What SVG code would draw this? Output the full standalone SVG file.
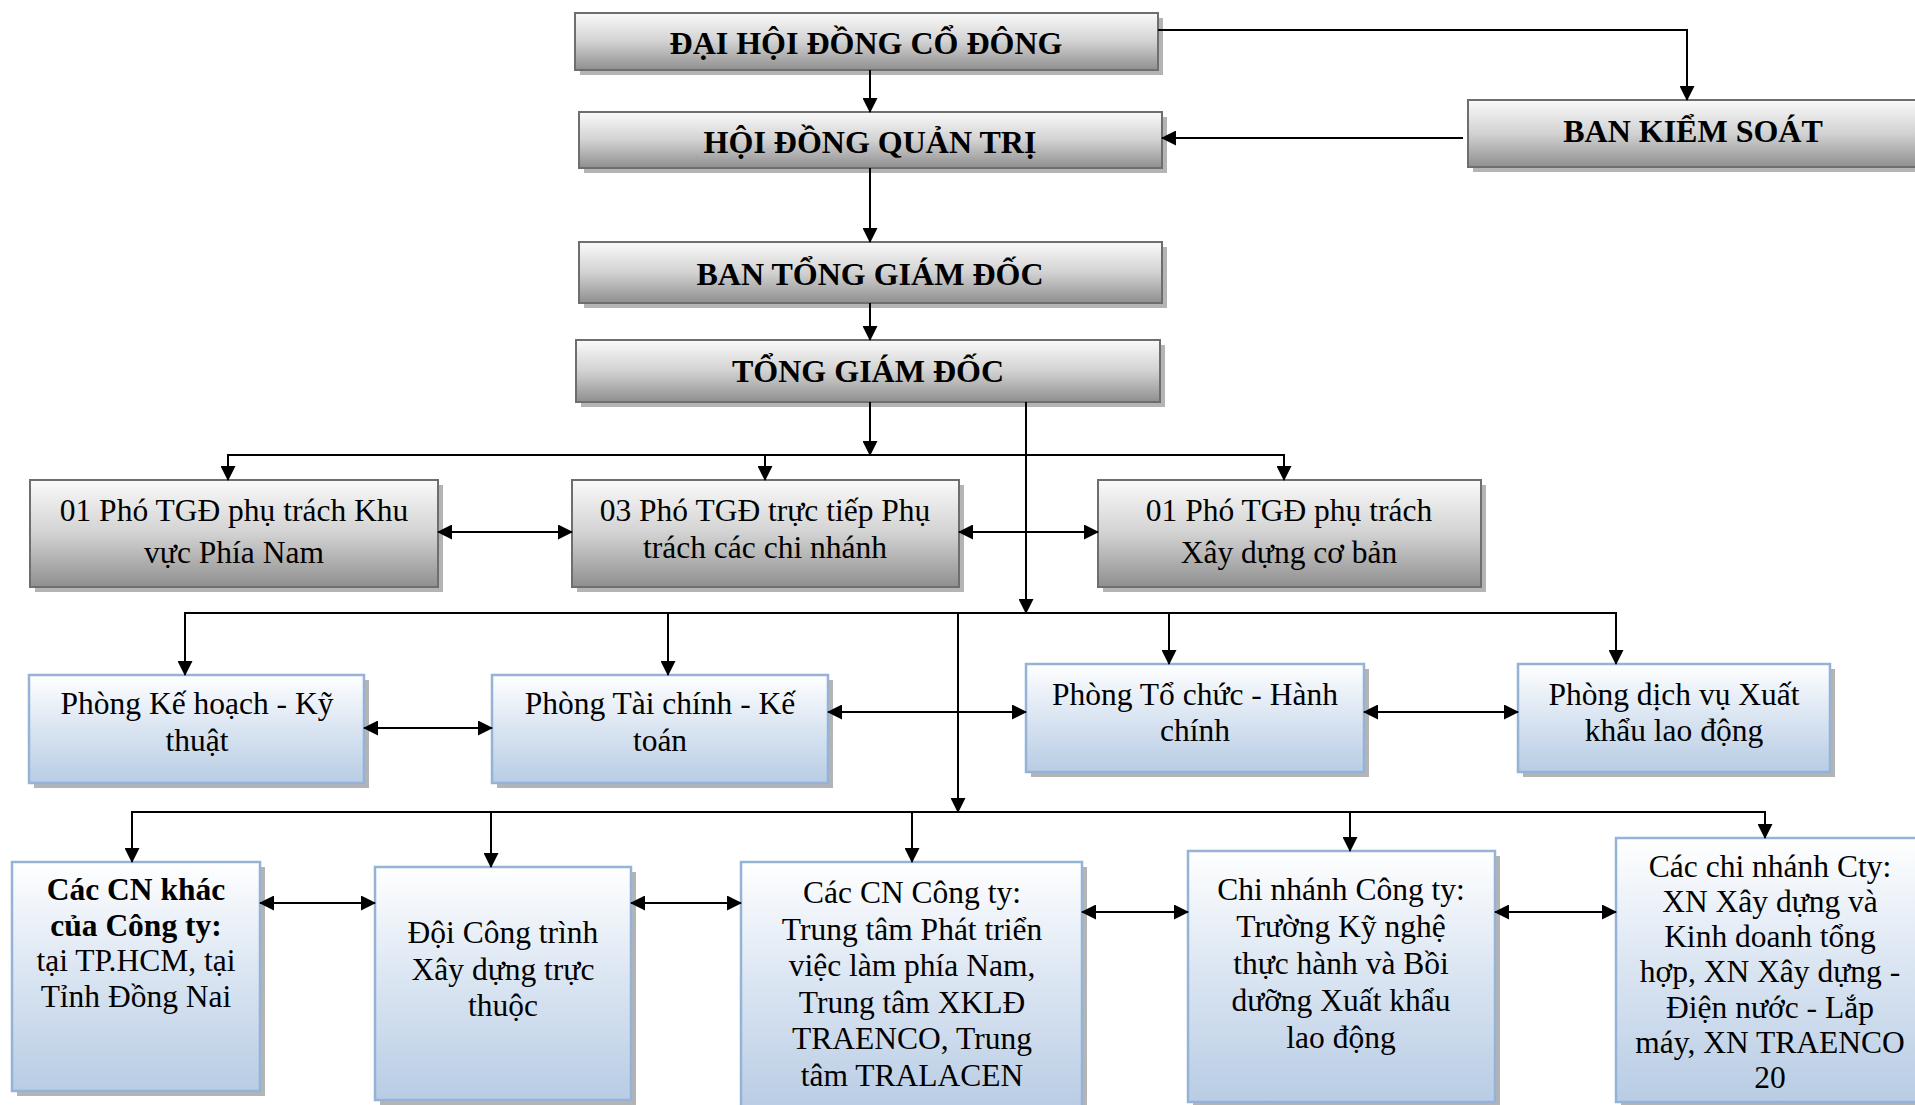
<svg xmlns="http://www.w3.org/2000/svg" width="1915" height="1105" viewBox="0 0 1915 1105">
<style>
.bg{fill:#ffffff}
.sh{fill:#b4b4b4}
.g{fill:url(#gGray);stroke:#6e6e6e;stroke-width:2}
.b{fill:url(#gBlue);stroke:#95b3d7;stroke-width:2.5}
.t{font-family:"Liberation Serif","Times New Roman",serif;font-size:31.5px;text-anchor:middle;fill:#000}
.tb{font-family:"Liberation Serif","Times New Roman",serif;font-size:32px;font-weight:bold;text-anchor:middle;fill:#000}
.bold{font-weight:bold}
.c line,.c path{stroke:#000;stroke-width:2;fill:none}
.a{marker-end:url(#ah)}
.d{marker-end:url(#ah);marker-start:url(#ah)}
</style>
<defs>
<linearGradient id="gGray" x1="0" y1="0" x2="0" y2="1">
<stop offset="0" stop-color="#fafafa"/>
<stop offset="0.5" stop-color="#d2d2d2"/>
<stop offset="1" stop-color="#8f8f8f"/>
</linearGradient>
<linearGradient id="gBlue" x1="0" y1="0" x2="0" y2="1">
<stop offset="0" stop-color="#ffffff"/>
<stop offset="0.45" stop-color="#dde7f3"/>
<stop offset="1" stop-color="#b8cce4"/>
</linearGradient>
<marker id="ah" markerUnits="userSpaceOnUse" markerWidth="15" markerHeight="15" refX="14" refY="7.5" orient="auto-start-reverse">
<path d="M0,0 L15,7.5 L0,15 z" fill="#000"/>
</marker>
</defs>
<rect class="bg" x="0" y="0" width="1915" height="1105"/>

<g id="n-dhdcd">
<rect class="sh" x="580" y="18" width="583" height="57"/>
<rect class="g" x="575" y="13" width="583" height="57"/>
<text class="tb" x="866" y="54">ĐẠI HỘI ĐỒNG CỔ ĐÔNG</text>
</g>
<g id="n-hdqt">
<rect class="sh" x="584" y="117" width="583" height="56"/>
<rect class="g" x="579" y="112" width="583" height="56"/>
<text class="tb" x="870" y="153">HỘI ĐỒNG QUẢN TRỊ</text>
</g>
<g id="n-bks">
<rect class="sh" x="1473" y="105" width="460" height="67"/>
<rect class="g" x="1468" y="100" width="460" height="67"/>
<text class="tb" x="1693" y="142">BAN KIỂM SOÁT</text>
</g>
<g id="n-btgd">
<rect class="sh" x="584" y="247" width="583" height="61"/>
<rect class="g" x="579" y="242" width="583" height="61"/>
<text class="tb" x="870" y="285">BAN TỔNG GIÁM ĐỐC</text>
</g>
<g id="n-tgd">
<rect class="sh" x="581" y="345" width="584" height="62"/>
<rect class="g" x="576" y="340" width="584" height="62"/>
<text class="tb" x="868" y="382">TỔNG GIÁM ĐỐC</text>
</g>

<g id="n-pho1">
<rect class="sh" x="35" y="485" width="408" height="107"/>
<rect class="g" x="30" y="480" width="408" height="107"/>
<text class="t" x="234" y="521">01 Phó TGĐ phụ trách Khu</text>
<text class="t" x="234" y="563">vực Phía Nam</text>
</g>
<g id="n-pho3">
<rect class="sh" x="577" y="485" width="387" height="107"/>
<rect class="g" x="572" y="480" width="387" height="107"/>
<text class="t" x="765" y="521">03 Phó TGĐ trực tiếp Phụ</text>
<text class="t" x="765" y="558">trách các chi nhánh</text>
</g>
<g id="n-phoxd">
<rect class="sh" x="1103" y="485" width="383" height="107"/>
<rect class="g" x="1098" y="480" width="383" height="107"/>
<text class="t" x="1289" y="521">01 Phó TGĐ phụ trách</text>
<text class="t" x="1289" y="563">Xây dựng cơ bản</text>
</g>

<g id="n-pkh">
<rect class="sh" x="34" y="680" width="335" height="108"/>
<rect class="b" x="29" y="675" width="335" height="108"/>
<text class="t" x="197" y="714">Phòng Kế hoạch - Kỹ</text>
<text class="t" x="197" y="751">thuật</text>
</g>
<g id="n-ptc">
<rect class="sh" x="497" y="680" width="336" height="108"/>
<rect class="b" x="492" y="675" width="336" height="108"/>
<text class="t" x="660" y="714">Phòng Tài chính - Kế</text>
<text class="t" x="660" y="751">toán</text>
</g>
<g id="n-ptchc">
<rect class="sh" x="1031" y="669" width="338" height="108"/>
<rect class="b" x="1026" y="664" width="338" height="108"/>
<text class="t" x="1195" y="705">Phòng Tổ chức - Hành</text>
<text class="t" x="1195" y="741">chính</text>
</g>
<g id="n-pdv">
<rect class="sh" x="1523" y="669" width="312" height="108"/>
<rect class="b" x="1518" y="664" width="312" height="108"/>
<text class="t" x="1674" y="705">Phòng dịch vụ Xuất</text>
<text class="t" x="1674" y="741">khẩu lao động</text>
</g>

<g id="n-cnkhac">
<rect class="sh" x="17" y="867" width="248" height="229"/>
<rect class="b" x="12" y="862" width="248" height="229"/>
<text class="t bold" x="136" y="900">Các CN khác</text>
<text class="t bold" x="136" y="936">của Công ty:</text>
<text class="t" x="136" y="971">tại TP.HCM, tại</text>
<text class="t" x="136" y="1007">Tỉnh Đồng Nai</text>
</g>
<g id="n-doi">
<rect class="sh" x="380" y="872" width="256" height="233"/>
<rect class="b" x="375" y="867" width="256" height="233"/>
<text class="t" x="503" y="943">Đội Công trình</text>
<text class="t" x="503" y="980">Xây dựng trực</text>
<text class="t" x="503" y="1016">thuộc</text>
</g>
<g id="n-cncty">
<rect class="sh" x="746" y="867" width="341" height="250"/>
<rect class="b" x="741" y="862" width="341" height="250"/>
<text class="t" x="912" y="903">Các CN Công ty:</text>
<text class="t" x="912" y="940">Trung tâm Phát triển</text>
<text class="t" x="912" y="976">việc làm phía Nam,</text>
<text class="t" x="912" y="1013">Trung tâm XKLĐ</text>
<text class="t" x="912" y="1049">TRAENCO, Trung</text>
<text class="t" x="912" y="1086">tâm TRALACEN</text>
</g>
<g id="n-truong">
<rect class="sh" x="1193" y="856" width="307" height="251"/>
<rect class="b" x="1188" y="851" width="307" height="251"/>
<text class="t" x="1341" y="900">Chi nhánh Công ty:</text>
<text class="t" x="1341" y="937">Trường Kỹ nghệ</text>
<text class="t" x="1341" y="974">thực hành và Bồi</text>
<text class="t" x="1341" y="1011">dưỡng Xuất khẩu</text>
<text class="t" x="1341" y="1048">lao động</text>
</g>
<g id="n-xn">
<rect class="sh" x="1621" y="843" width="310" height="264"/>
<rect class="b" x="1616" y="838" width="310" height="264"/>
<text class="t" x="1770" y="877">Các chi nhánh Cty:</text>
<text class="t" x="1770" y="912">XN Xây dựng và</text>
<text class="t" x="1770" y="947">Kinh doanh tổng</text>
<text class="t" x="1770" y="982">hợp, XN Xây dựng -</text>
<text class="t" x="1770" y="1018">Điện nước - Lắp</text>
<text class="t" x="1770" y="1053">máy, XN TRAENCO</text>
<text class="t" x="1770" y="1088">20</text>
</g>

<g id="connectors" class="c">
<line class="a" x1="870" y1="70" x2="870" y2="112"/>
<path class="a" d="M1158,30 H1687 V100"/>
<line class="a" x1="1463" y1="138" x2="1162" y2="138"/>
<line class="a" x1="870" y1="168" x2="870" y2="242"/>
<line class="a" x1="870" y1="303" x2="870" y2="340"/>
<line class="a" x1="870" y1="402" x2="870" y2="455"/>
<line x1="227" y1="455" x2="1285" y2="455"/>
<line class="a" x1="228" y1="455" x2="228" y2="480"/>
<line class="a" x1="765" y1="455" x2="765" y2="480"/>
<line class="a" x1="1284" y1="455" x2="1284" y2="480"/>
<line class="d" x1="438" y1="532" x2="572" y2="532"/>
<line class="d" x1="959" y1="532" x2="1098" y2="532"/>
<line class="a" x1="1026" y1="402" x2="1026" y2="613"/>
<line x1="184" y1="613" x2="1617" y2="613"/>
<line class="a" x1="185" y1="613" x2="185" y2="675"/>
<line class="a" x1="668" y1="613" x2="668" y2="675"/>
<line class="a" x1="1169" y1="613" x2="1169" y2="664"/>
<line class="a" x1="1616" y1="613" x2="1616" y2="664"/>
<line class="a" x1="958" y1="613" x2="958" y2="812"/>
<line class="d" x1="364" y1="728" x2="492" y2="728"/>
<line class="d" x1="828" y1="712" x2="1026" y2="712"/>
<line class="d" x1="1364" y1="712" x2="1518" y2="712"/>
<line x1="131" y1="812" x2="1766" y2="812"/>
<line class="a" x1="132" y1="812" x2="132" y2="862"/>
<line class="a" x1="491" y1="812" x2="491" y2="867"/>
<line class="a" x1="912" y1="812" x2="912" y2="862"/>
<line class="a" x1="1350" y1="812" x2="1350" y2="851"/>
<line class="a" x1="1765" y1="812" x2="1765" y2="838"/>
<line class="d" x1="260" y1="903" x2="375" y2="903"/>
<line class="d" x1="631" y1="903" x2="741" y2="903"/>
<line class="d" x1="1082" y1="912" x2="1188" y2="912"/>
<line class="d" x1="1495" y1="912" x2="1616" y2="912"/>
</g>
</svg>
